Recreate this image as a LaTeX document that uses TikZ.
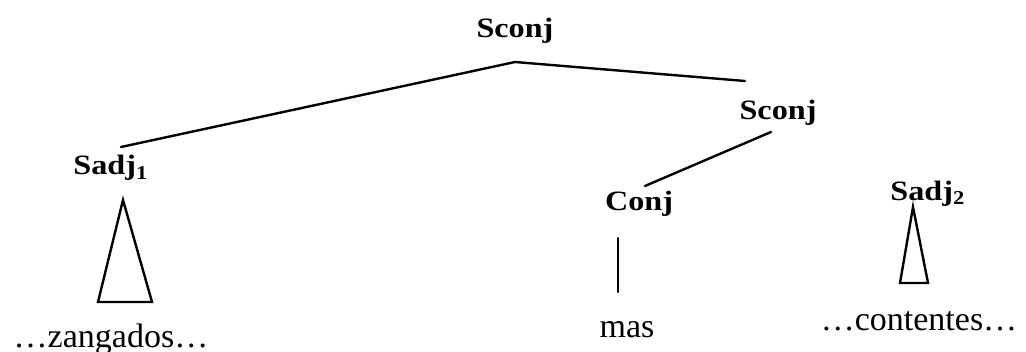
\documentclass[tikz,border=0pt]{standalone}
\usepackage{fontspec}
\setmainfont{Liberation Serif}
\usepackage{graphicx}
\begin{document}
\begin{tikzpicture}[x=0.5pt,y=-0.5pt,
  cat/.style={anchor=base,inner sep=0pt,font=\fontsize{14}{16}\selectfont\bfseries},
  word/.style={anchor=base,inner sep=0pt,font=\fontsize{17}{19}\selectfont},
  edge/.style={line width=1.2pt,line cap=round,line join=miter}]
\useasboundingbox (0,0) rectangle (1026,352);
% nodes
\node[cat] (top) at (515,38) {\scalebox{1.15}[1]{Sconj}};
\node[cat] (s2) at (778,120) {\scalebox{1.15}[1]{Sconj}};
\node[cat] (sadj1) at (111,175) {\scalebox{1.15}[1]{Sadj\textsubscript{1}}};
\node[cat] (conj) at (639,211) {\scalebox{1.15}[1]{Conj}};
\node[cat] (sadj2) at (928,200) {\scalebox{1.15}[1]{Sadj\textsubscript{2}}};
\node[word] (mas) at (627,337) {mas};
\node[word] (zang) at (111,347) {…zangados…};
\node[word] (cont) at (919,330) {…contentes…};
% connector end points
\coordinate (topB) at (515,62);
\coordinate (sadj1T) at (121,147);
\coordinate (s2T) at (745,81);
\coordinate (s2B) at (771,132);
\coordinate (conjT) at (645,186);
\coordinate (conjB) at (618,238);
\coordinate (masT) at (618,292);
\coordinate (t1a) at (123,200);
\coordinate (t1l) at (98,302);
\coordinate (t1r) at (152,302);
\coordinate (t2a) at (913,207);
\coordinate (t2l) at (900,283);
\coordinate (t2r) at (928,283);
% connectors
\draw[edge] (sadj1T) -- (topB) -- (s2T);
\draw[edge] (s2B) -- (conjT);
\draw[edge] (conjB) -- (masT);
\draw[edge] (t1a) -- (t1l) -- (t1r) -- cycle;
\draw[edge] (t2a) -- (t2l) -- (t2r) -- cycle;
\end{tikzpicture}
\end{document}
